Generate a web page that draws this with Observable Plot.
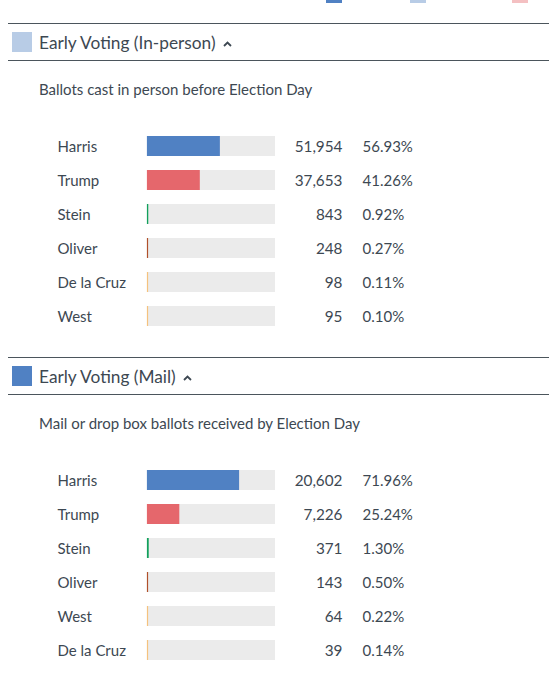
<!DOCTYPE html>
<html>
<head>
<meta charset="utf-8">
<script src="https://cdn.jsdelivr.net/npm/d3@7"></script>
<script src="https://cdn.jsdelivr.net/npm/@observablehq/plot@0.6"></script>
<style>
  html, body { margin: 0; padding: 0; background: #fff; }
  body { width: 549px; height: 690px; overflow: hidden; font-family: Lato, "Open Sans", sans-serif; color: #3d4852; }
  .legend { position: relative; height: 23px; }
  .legend .sw { position: absolute; top: -13px; width: 16px; height: 16px; }
  .header { position: relative; margin-left: 8px; height: 36px; border-top: 1px solid #4b555c; border-bottom: 1px solid #4b555c; }
  .header .sw { position: absolute; left: 4px; top: 8px; width: 20px; height: 20px; }
  .header .title { position: absolute; left: 31px; top: 9.5px; font-size: 17.3px; line-height: 18px; white-space: nowrap; }
  .header .caret { display: inline-block; margin-left: 7px; vertical-align: 2px; }
  .sub { position: relative; height: 68px; }
  .sub div { position: absolute; left: 39px; top: 21px; font-size: 15px; line-height: 15px; white-space: nowrap; }
  .plot svg { display: block; }
  .gap { height: 24px; }
</style>
</head>
<body>
<div class="legend" id="legend"></div>
<div id="sections"></div>
<script>
// ---- data ----
const legendColors = ["#5081c3", "#b8cce6", "#f4c0c2"];

const sectionTitles = ["Early Voting (In-person)", "Early Voting (Mail)"];
const sectionSubtitles = ["Ballots cast in person before Election Day", "Mail or drop box ballots received by Election Day"];
const sectionSwatches = ["#b8cce6", "#5081c3"];

const inPersonNames = ["Harris", "Trump", "Stein", "Oliver", "De la Cruz", "West"];
const inPersonVotes = [51954, 37653, 843, 248, 98, 95];
const inPersonPct = [56.93, 41.26, 0.92, 0.27, 0.11, 0.10];

const mailNames = ["Harris", "Trump", "Stein", "Oliver", "West", "De la Cruz"];
const mailVotes = [20602, 7226, 371, 143, 64, 39];
const mailPct = [71.96, 25.24, 1.30, 0.50, 0.22, 0.14];

const candidates = ["Harris", "Trump", "Stein", "Oliver", "De la Cruz", "West"];
const candidateColors = ["#5081c3", "#e5676c", "#12a05c", "#b0502a", "#f5c27e", "#f5c27e"];

// ---- legend (cut off at top) ----
const legend = document.getElementById("legend");
[326, 410, 512].forEach((x, i) => {
  const s = document.createElement("div");
  s.className = "sw";
  s.style.left = x + "px";
  s.style.background = legendColors[i];
  legend.appendChild(s);
});

const fmt = d3.format(",");
const sets = [
  {names: inPersonNames, votes: inPersonVotes, pct: inPersonPct},
  {names: mailNames, votes: mailVotes, pct: mailPct}
];

const container = document.getElementById("sections");
sets.forEach((set, si) => {
  const rows = set.names.map((name, i) => ({name, votes: set.votes[i], pct: set.pct[i]}));

  const header = document.createElement("div");
  header.className = "header";
  header.innerHTML = `<div class="sw" style="background:${sectionSwatches[si]}"></div>
    <div class="title">${sectionTitles[si]}<svg class="caret" width="9" height="6" viewBox="0 0 9 6"><path d="M1 5 L4.5 1.5 L8 5" fill="none" stroke="#3d4852" stroke-width="1.8"/></svg></div>`;
  container.appendChild(header);

  const sub = document.createElement("div");
  sub.className = "sub";
  sub.innerHTML = `<div>${sectionSubtitles[si]}</div>`;
  container.appendChild(sub);

  const chart = Plot.plot({
    width: 549,
    height: 204,
    marginLeft: 147,
    marginRight: 274,
    marginTop: 0,
    marginBottom: 0,
    x: {domain: [0, 100], axis: null},
    y: {domain: set.names, axis: null, paddingInner: 0.41, paddingOuter: 0.205},
    color: {domain: candidates, range: candidateColors},
    style: {fontFamily: "Lato, 'Open Sans', sans-serif", color: "#3d4852", background: "transparent"},
    marks: [
      Plot.barX(rows, {y: "name", x1: 0, x2: 100, fill: "#ebebeb"}),
      Plot.barX(rows, {y: "name", x1: 0, x2: "pct", fill: "name"}),
      Plot.tickX(rows, {y: "name", x: 0, stroke: "name", strokeWidth: 1.2}),
      Plot.text(rows, {y: "name", text: "name", frameAnchor: "left", textAnchor: "start", dx: -90, dy: 1, fontSize: 15, fill: "#3d4852"}),
      Plot.text(rows, {y: "name", text: d => fmt(d.votes), frameAnchor: "right", textAnchor: "end", dx: 67, dy: 1, fontSize: 15.3, fill: "#3d4852"}),
      Plot.text(rows, {y: "name", text: d => d.pct.toFixed(2) + "%", frameAnchor: "right", textAnchor: "start", dx: 87, dy: 1, fontSize: 15, fill: "#3d4852"})
    ]
  });
  const wrap = document.createElement("div");
  wrap.className = "plot";
  wrap.appendChild(chart);
  container.appendChild(wrap);

  if (si === 0) {
    const gap = document.createElement("div");
    gap.className = "gap";
    container.appendChild(gap);
  }
});
</script>
</body>
</html>
